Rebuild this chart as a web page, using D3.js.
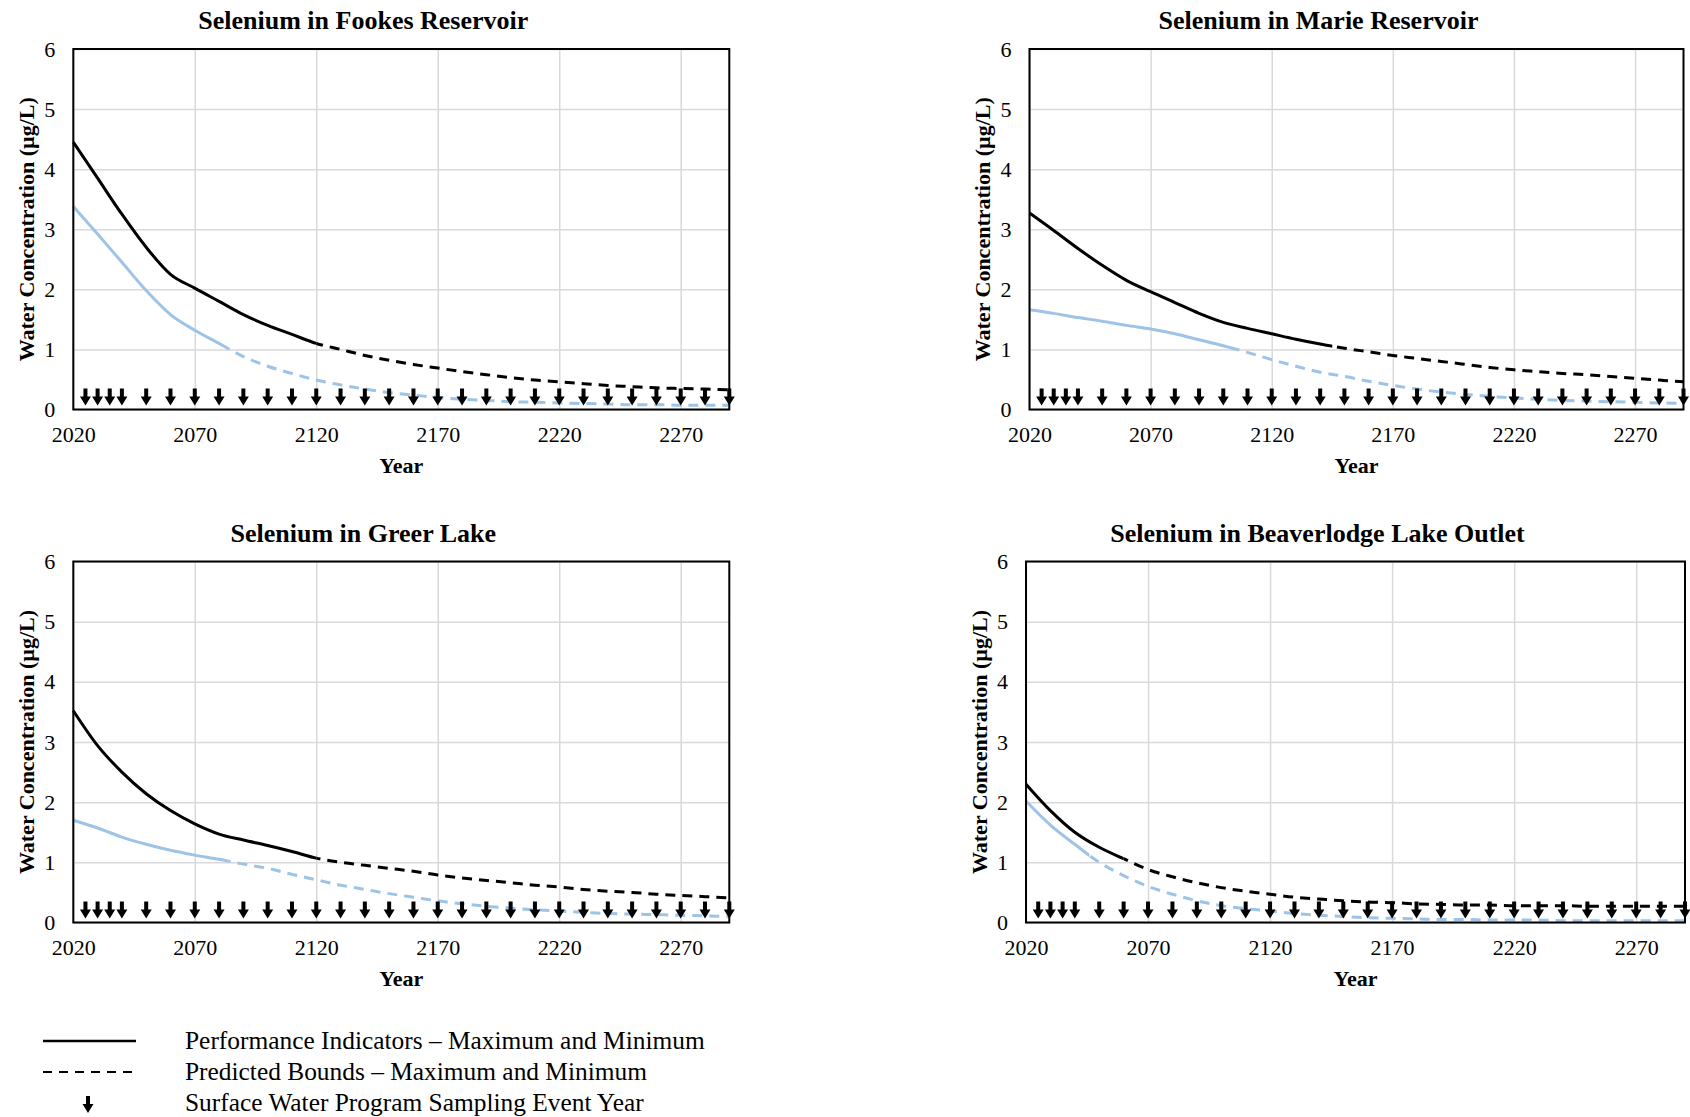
<!DOCTYPE html>
<html>
<head>
<meta charset="utf-8">
<script src="https://cdn.jsdelivr.net/npm/d3@7"></script>
<style>
  body { margin: 0; background: #fff; }
  text { font-family: "Liberation Serif", "Times New Roman", serif; fill: #000; }
</style>
</head>
<body>
<div id="chart"></div>
<script>
//******** DATA ********
var years = [2020, 2030, 2040, 2050, 2060, 2070, 2080, 2090, 2100, 2110, 2120, 2130, 2140, 2150,
             2160, 2170, 2180, 2190, 2200, 2210, 2220, 2230, 2240, 2250, 2260, 2270, 2280, 2290];
var xTicks = [2020, 2070, 2120, 2170, 2220, 2270];
var yTicks = [0, 1, 2, 3, 4, 5, 6];
var sampleYears = [2025, 2030, 2035, 2040, 2050, 2060, 2070, 2080, 2090, 2100, 2110, 2120, 2130, 2140,
                   2150, 2160, 2170, 2180, 2190, 2200, 2210, 2220, 2230, 2240, 2250, 2260, 2270, 2280, 2290];

var titles = ["Selenium in Fookes Reservoir", "Selenium in Marie Reservoir",
              "Selenium in Greer Lake", "Selenium in Beaverlodge Lake Outlet"];

var fookesMax = [4.45, 3.85, 3.25, 2.7, 2.25, 2.02, 1.8, 1.58, 1.4, 1.25, 1.1, 1.0, 0.9, 0.82,
                 0.75, 0.69, 0.63, 0.58, 0.53, 0.49, 0.46, 0.43, 0.4, 0.38, 0.36, 0.35, 0.34, 0.33];
var fookesMin = [3.38, 2.92, 2.45, 1.98, 1.58, 1.32, 1.1, 0.88, 0.72, 0.6, 0.49, 0.41, 0.34, 0.28,
                 0.24, 0.2, 0.17, 0.15, 0.13, 0.12, 0.11, 0.1, 0.09, 0.08, 0.08, 0.07, 0.07, 0.07];
var marieMax = [3.27, 2.98, 2.68, 2.4, 2.15, 1.96, 1.78, 1.6, 1.45, 1.35, 1.26, 1.17, 1.09, 1.02,
                0.96, 0.9, 0.85, 0.8, 0.75, 0.7, 0.66, 0.63, 0.6, 0.58, 0.55, 0.52, 0.49, 0.46];
var marieMin = [1.66, 1.6, 1.53, 1.47, 1.4, 1.34, 1.26, 1.16, 1.06, 0.95, 0.83, 0.72, 0.62, 0.55,
                0.47, 0.4, 0.34, 0.29, 0.25, 0.22, 0.19, 0.17, 0.15, 0.14, 0.13, 0.12, 0.11, 0.1];
var greerMax = [3.52, 2.94, 2.5, 2.14, 1.86, 1.64, 1.47, 1.37, 1.28, 1.18, 1.07, 1.0, 0.95, 0.9,
                0.85, 0.79, 0.74, 0.7, 0.66, 0.62, 0.59, 0.55, 0.52, 0.5, 0.47, 0.45, 0.43, 0.41];
var greerMin = [1.7, 1.57, 1.42, 1.3, 1.2, 1.12, 1.05, 0.97, 0.9, 0.8, 0.71, 0.62, 0.55, 0.48,
                0.42, 0.36, 0.31, 0.27, 0.24, 0.21, 0.19, 0.17, 0.15, 0.14, 0.13, 0.12, 0.11, 0.1];
var beaverMax = [2.3, 1.86, 1.5, 1.25, 1.06, 0.88, 0.76, 0.66, 0.58, 0.52, 0.47, 0.42, 0.39, 0.36,
                 0.34, 0.33, 0.31, 0.3, 0.29, 0.29, 0.28, 0.28, 0.28, 0.27, 0.27, 0.27, 0.27, 0.27];
var beaverMin = [2.02, 1.62, 1.3, 1.0, 0.78, 0.6, 0.47, 0.36, 0.28, 0.23, 0.19, 0.15, 0.12, 0.1,
                 0.08, 0.07, 0.06, 0.05, 0.05, 0.04, 0.04, 0.04, 0.03, 0.03, 0.03, 0.03, 0.03, 0.03];

// last year of the performance indicator (solid) part, [max, min]
var solidEnd = [[2120, 2084], [2145, 2104], [2120, 2084], [2060, 2046]];

var legendLabels = ["Performance Indicators \u2013 Maximum and Minimum",
                    "Predicted Bounds \u2013 Maximum and Minimum",
                    "Surface Water Program Sampling Event Year"];

//******** LAYOUT ********
var panels = [
  {x: 73.3,  y: 49,    w: 656, h: 360.5, max: fookesMax, min: fookesMin},
  {x: 1029.5, y: 49,   w: 654, h: 360.5, max: marieMax,  min: marieMin},
  {x: 73.3,  y: 561.5, w: 656, h: 361,   max: greerMax,  min: greerMin},
  {x: 1026,  y: 561.5, w: 659, h: 361,   max: beaverMax, min: beaverMin}
];
var blue = "#9DC3E6";

var svg = d3.select("#chart").append("svg")
  .attr("width", 1690)
  .attr("height", 1117);

var clipId = 0;

function drawArrow(g, cx, tip){
  // shaft + head, pointing down
  var p = "M" + (cx - 2) + "," + (tip - 17) +
          "L" + (cx + 2) + "," + (tip - 17) +
          "L" + (cx + 2) + "," + (tip - 9) +
          "L" + (cx + 5.5) + "," + (tip - 9) +
          "L" + cx + "," + tip +
          "L" + (cx - 5.5) + "," + (tip - 9) +
          "L" + (cx - 2) + "," + (tip - 9) + "Z";
  g.append("path").attr("d", p).attr("fill", "#000");
}

panels.forEach(function(p, i){
  var g = svg.append("g").attr("transform", "translate(" + p.x + "," + p.y + ")");
  var x = d3.scaleLinear().domain([2020, 2290]).range([0, p.w]);
  var y = d3.scaleLinear().domain([0, 6]).range([p.h, 0]);

  //gridlines
  g.append("g")
    .attr("transform", "translate(0," + p.h + ")")
    .call(d3.axisBottom(x).tickValues(xTicks).tickSize(-p.h).tickFormat(""))
    .call(function(s){ s.select(".domain").remove(); })
    .selectAll("line").attr("stroke", "#d9d9d9").attr("stroke-width", 1.5);
  g.append("g")
    .call(d3.axisLeft(y).tickValues(yTicks).tickSize(-p.w).tickFormat(""))
    .call(function(s){ s.select(".domain").remove(); })
    .selectAll("line").attr("stroke", "#d9d9d9").attr("stroke-width", 1.5);

  //axis labels
  var xa = g.append("g")
    .attr("transform", "translate(0," + p.h + ")")
    .call(d3.axisBottom(x).tickValues(xTicks).tickSize(0).tickPadding(17).tickFormat(d3.format("d")));
  xa.select(".domain").remove();
  xa.selectAll("text").style("font-size", "22px").style("font-family", "Liberation Serif");

  var ya = g.append("g")
    .call(d3.axisLeft(y).tickValues(yTicks).tickSize(0).tickPadding(18).tickFormat(d3.format("d")));
  ya.select(".domain").remove();
  ya.selectAll("text").style("font-size", "22px").style("font-family", "Liberation Serif");

  //the lines, solid part and dashed part through clips
  var line = d3.line()
    .x(function(d, k){ return x(years[k]); })
    .y(function(d){ return y(d); })
    .curve(d3.curveMonotoneX);

  [[p.max, "#000", solidEnd[i][0]], [p.min, blue, solidEnd[i][1]]].forEach(function(s){
    var idA = "clipA" + (clipId), idB = "clipB" + (clipId);
    clipId++;
    g.append("clipPath").attr("id", idA).append("rect")
      .attr("x", -5).attr("y", -5).attr("width", x(s[2]) + 5).attr("height", p.h + 10);
    g.append("clipPath").attr("id", idB).append("rect")
      .attr("x", x(s[2])).attr("y", -5).attr("width", p.w - x(s[2]) + 5).attr("height", p.h + 10);

    g.append("path").datum(s[0])
      .attr("d", line)
      .attr("fill", "none")
      .attr("stroke", s[1])
      .attr("stroke-width", 3)
      .attr("clip-path", "url(#" + idA + ")");
    g.append("path").datum(s[0])
      .attr("d", line)
      .attr("fill", "none")
      .attr("stroke", s[1])
      .attr("stroke-width", 3)
      .attr("stroke-dasharray", "10,7")
      .attr("clip-path", "url(#" + idB + ")");
  });

  //sampling arrows
  var ag = g.append("g");
  sampleYears.forEach(function(yr){
    drawArrow(ag, x(yr), y(0) - 4);
  });

  //border
  g.append("rect")
    .attr("width", p.w).attr("height", p.h)
    .attr("fill", "none").attr("stroke", "#000").attr("stroke-width", 2);

  //titles
  g.append("text")
    .attr("x", p.w / 2 - 38).attr("y", -20)
    .attr("text-anchor", "middle")
    .style("font-size", "26px").style("font-weight", "bold")
    .text(titles[i]);

  g.append("text")
    .attr("x", p.w / 2).attr("y", p.h + 63)
    .attr("text-anchor", "middle")
    .style("font-size", "22px").style("font-weight", "bold")
    .text("Year");

  g.append("text")
    .attr("transform", "translate(-47," + (p.h / 2) + ") rotate(-90)")
    .attr("text-anchor", "middle")
    .attr("dy", "0.35em")
    .style("font-size", "22px").style("font-weight", "bold")
    .text("Water Concentration (\u00b5g/L)");
});

//******** LEGEND ********
var lg = svg.append("g");
lg.append("line").attr("x1", 43).attr("x2", 136).attr("y1", 1041).attr("y2", 1041)
  .attr("stroke", "#000").attr("stroke-width", 2.5);
lg.append("line").attr("x1", 43).attr("x2", 132).attr("y1", 1072).attr("y2", 1072)
  .attr("stroke", "#000").attr("stroke-width", 2).attr("stroke-dasharray", "9,7");
drawArrow(lg, 88, 1113);

legendLabels.forEach(function(t, k){
  lg.append("text")
    .attr("x", 185).attr("y", 1049 + k * 31)
    .style("font-size", "25.4px")
    .text(t);
});
</script>
</body>
</html>
